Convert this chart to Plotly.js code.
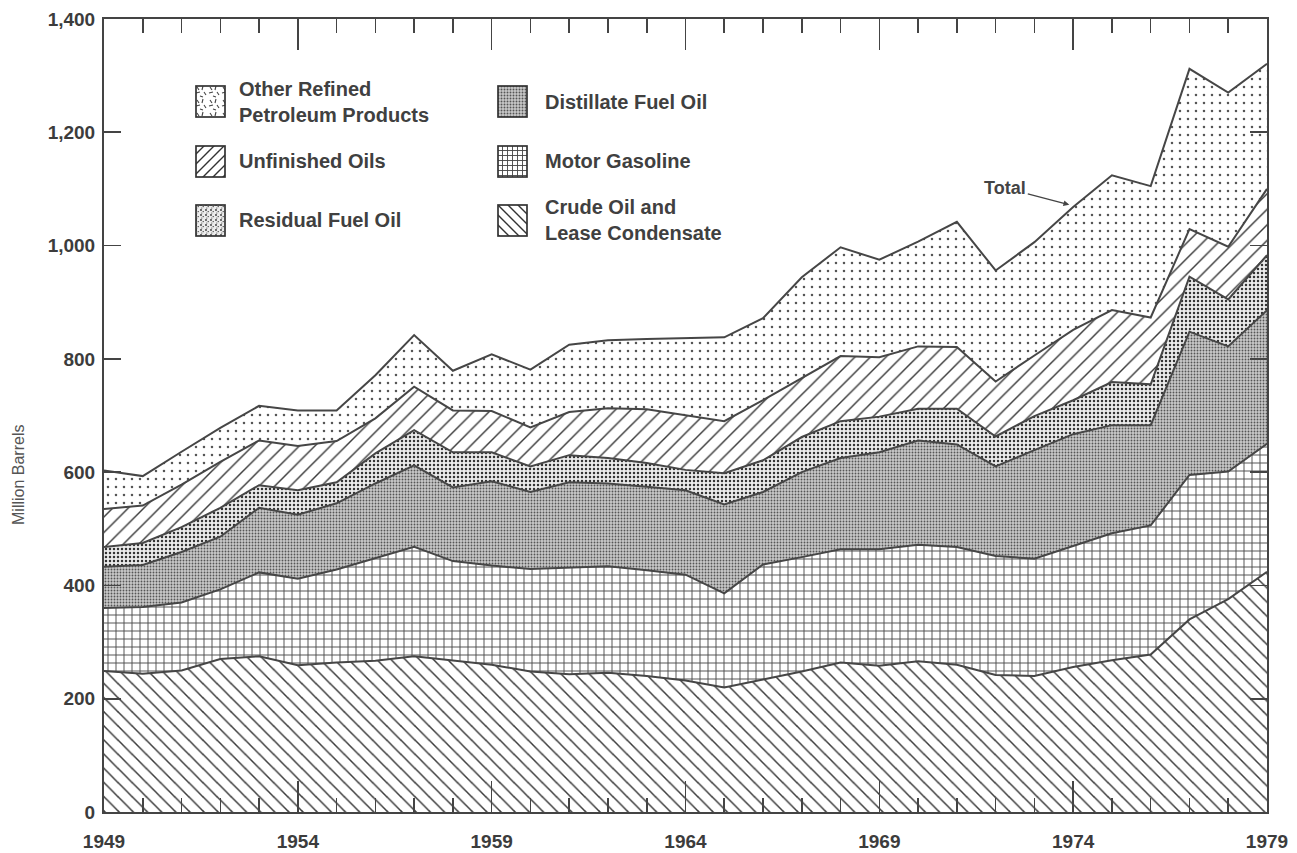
<!DOCTYPE html>
<html>
<head>
<meta charset="utf-8">
<script src="https://cdn.plot.ly/plotly-3.0.1.min.js"></script>
<style>
html,body{margin:0;padding:0;background:#ffffff;}
#chart{width:1297px;height:853px;}
</style>
</head>
<body>
<div id="chart"></div>
<script>
// ---- data (million barrels) ----
const years = [1949,1950,1951,1952,1953,1954,1955,1956,1957,1958,1959,1960,1961,1962,1963,1964,1965,1966,1967,1968,1969,1970,1971,1972,1973,1974,1975,1976,1977,1978,1979];
const crudeOil          = [249,244,250,270,275,259,264,267,275,267,260,248,243,246,240,232,220,234,248,264,258,266,260,242,240,256,268,278,340,376,424];
const motorGasoline     = [111,118,120,123,148,153,164,181,193,176,175,181,189,188,187,187,166,203,202,200,206,206,208,210,207,214,224,228,255,225,226];
const distillateFuelOil = [73,74,89,93,114,113,117,132,144,130,149,136,150,146,147,149,157,128,150,161,171,184,181,158,192,197,191,177,253,221,236];
const residualFuelOil   = [35,39,44,51,40,43,37,53,62,62,51,45,48,45,42,36,55,56,62,65,63,56,63,53,60,60,76,72,97,83,97];
const unfinishedOils    = [67,66,75,81,79,78,73,62,77,74,73,69,76,88,95,96,92,106,104,115,105,110,109,97,107,124,127,118,84,93,117];
const otherProducts     = [68,52,58,60,61,63,54,76,91,70,100,102,119,120,124,136,148,145,178,192,172,185,221,196,200,217,238,232,283,272,221];

const seriesNames = {
  crude: 'Crude Oil and<br>Lease Condensate',
  gasoline: 'Motor Gasoline',
  distillate: 'Distillate Fuel Oil',
  residual: 'Residual Fuel Oil',
  unfinished: 'Unfinished Oils',
  other: 'Other Refined<br>Petroleum Products'
};
const yTickVals = [0,200,400,600,800,1000,1200,1400];
const xTickVals = [1949,1954,1959,1964,1969,1974,1979];
const yAxisTitle = 'Million Barrels';
const totalLabel = 'Total';

// ---- styles ----
const FONT = 'Liberation Sans, Arial, sans-serif';
const LINE = '#464646';
const patterns = {
  crude:      {shape:'\\', size:10, solidity:0.15, fgcolor:'#3a3a3a', bgcolor:'#ffffff'},
  gasoline:   {shape:'+',  size:8,  solidity:0.22, fgcolor:'#4a4a4a', bgcolor:'#ffffff'},
  distillate: {shape:'.',  size:3,  solidity:0.3,  fgcolor:'#555555', bgcolor:'#c9c9c9'},
  residual:   {shape:'.',  size:4,  solidity:0.3,  fgcolor:'#333333', bgcolor:'#ececec'},
  unfinished: {shape:'/',  size:11, solidity:0.13, fgcolor:'#3a3a3a', bgcolor:'#ffffff'},
  other:      {shape:'.',  size:8,  solidity:0.08, fgcolor:'#555555', bgcolor:'#ffffff'}
};

const layers = [
  {key:'crude', y: crudeOil},
  {key:'gasoline', y: motorGasoline},
  {key:'distillate', y: distillateFuelOil},
  {key:'residual', y: residualFuelOil},
  {key:'unfinished', y: unfinishedOils},
  {key:'other', y: otherProducts}
];

const traces = layers.map(l => ({
  type:'scatter', mode:'lines', x: years, y: l.y,
  name: seriesNames[l.key].replace('<br>',' '),
  stackgroup:'one',
  line:{color:LINE, width:2, shape:'linear'},
  fillcolor:'#ffffff',
  fillpattern: patterns[l.key],
  hoverinfo:'skip', showlegend:false
}));

// ---- legend swatches (decoration) ----
function svgSwatch(inner, pw, ph, bg){
  const svg = '<svg xmlns="http://www.w3.org/2000/svg" width="31" height="33" viewBox="0 0 31 33">' +
    '<defs><pattern id="p" width="'+pw+'" height="'+ph+'" patternUnits="userSpaceOnUse">' +
    '<rect width="'+pw+'" height="'+ph+'" fill="'+bg+'"/>' + inner + '</pattern></defs>' +
    '<rect x="1" y="1" width="29" height="31" fill="url(#p)" stroke="#333" stroke-width="1.7"/></svg>';
  return 'data:image/svg+xml;charset=utf-8,' + encodeURIComponent(svg);
}
const swatchSvg = {
  other: svgSwatch('<path d="M2,2l2,3M8,1l-1,4M1,8l4,-1M9,7l2,3M5,11l3,1" stroke="#444" stroke-width="1.1" fill="none"/>', 13, 13, '#fff'),
  unfinished: svgSwatch('<path d="M0,10L10,0M-2,2L2,-2M8,12L12,8" stroke="#333" stroke-width="1.4"/>', 10, 10, '#fff'),
  residual: svgSwatch('<circle cx="1" cy="1" r="0.9" fill="#333"/><circle cx="3.2" cy="2.6" r="0.7" fill="#333"/><circle cx="1.8" cy="4" r="0.6" fill="#444"/>', 5, 5, '#ececec'),
  distillate: svgSwatch('<circle cx="1.5" cy="1.5" r="0.95" fill="#555"/>', 3, 3, '#c9c9c9'),
  gasoline: svgSwatch('<path d="M0,0.5H10M0.5,0V10M0,5.5H10M5.5,0V10" stroke="#444" stroke-width="0.9"/>', 10, 10, '#fff'),
  crude: svgSwatch('<path d="M0,0L10,10M-2,8L2,12M8,-2L12,2" stroke="#333" stroke-width="1.4"/>', 10, 10, '#fff')
};

// pixel geometry of the plot area
const M = {l:104, r:30, t:19, b:41};
const W = 1297, H = 853;
const pw = W - M.l - M.r, ph = H - M.t - M.b;
const px2x = px => (px - M.l) / pw;
const py2y = py => (H - M.b - py) / ph;

const legendCells = [
  {key:'other',      col:0, row:0},
  {key:'unfinished', col:0, row:1},
  {key:'residual',   col:0, row:2},
  {key:'distillate', col:1, row:0},
  {key:'gasoline',   col:1, row:1},
  {key:'crude',      col:1, row:2}
];
const colSwatchX = [195, 497], colTextX = [237, 543], rowTop = [85, 145, 204];
const images = [], annotations = [];
legendCells.forEach(c => {
  images.push({source: swatchSvg[c.key], xref:'paper', yref:'paper',
    x: px2x(colSwatchX[c.col]), y: py2y(rowTop[c.row]),
    sizex: 31/pw, sizey: 33/ph, sizing:'stretch', xanchor:'left', yanchor:'top', layer:'above'});
  annotations.push({text: seriesNames[c.key], xref:'paper', yref:'paper',
    x: px2x(colTextX[c.col]), y: py2y(rowTop[c.row] + 16.5),
    xanchor:'left', yanchor:'middle', align:'left', showarrow:false,
    font:{size:20, weight:'bold', color:'#404040', family:FONT}});
});

// "Total" pointer onto the top of the stack in 1974
const iTot = years.indexOf(1974);
const totalAt = crudeOil[iTot] + motorGasoline[iTot] + distillateFuelOil[iTot] + residualFuelOil[iTot] + unfinishedOils[iTot] + otherProducts[iTot];
annotations.push({text: totalLabel, x: years[iTot] - 0.1, y: totalAt + 4, xref:'x', yref:'y',
  showarrow:true, arrowhead:2, arrowsize:0.9, arrowwidth:1.3, arrowcolor:'#444',
  ax:-64, ay:-17, font:{size:18, weight:'bold', color:'#444', family:FONT}});

// y-axis title (placed as in the reference, below the axis centre)
annotations.push({text: yAxisTitle, xref:'paper', yref:'paper', x: px2x(18), y: py2y(475),
  textangle:-90, showarrow:false, xanchor:'center', yanchor:'middle',
  font:{size:16, color:'#555', family:FONT}});

const tickFont = {size:19, weight:'bold', color:'#3c3c3c', family:FONT};

const layout = {
  width: W, height: H,
  margin: {l:M.l, r:M.r, t:M.t, b:M.b, pad:0},
  paper_bgcolor:'#ffffff', plot_bgcolor:'#ffffff',
  showlegend:false,
  font:{family:FONT, color:'#333'},
  xaxis:{
    range:[1949,1979], tickmode:'array', tickvals:xTickVals, ticktext:xTickVals.map(String),
    ticks:'inside', ticklen:31, tickwidth:1.6, tickcolor:'#444',
    showline:true, linewidth:2, linecolor:'#444', mirror:'ticks',
    showgrid:false, zeroline:false, tickfont:tickFont, automargin:false, fixedrange:true,
    ticklabelstandoff:11,
    minor:{tick0:1949, dtick:1, ticks:'inside', ticklen:14, tickwidth:1.6, tickcolor:'#444', showgrid:false}
  },
  yaxis:{
    range:[0,1400], tickmode:'array', tickvals:yTickVals, ticktext:yTickVals.map(v => v.toLocaleString('en-US')),
    ticks:'inside', ticklen:17, tickwidth:1.6, tickcolor:'#444',
    showline:true, linewidth:2, linecolor:'#444', mirror:'ticks',
    showgrid:false, zeroline:false, tickfont:tickFont, automargin:false, fixedrange:true,
    ticklabelstandoff:3
  },
  images: images,
  annotations: annotations
};

Plotly.newPlot('chart', traces, layout, {displayModeBar:false, staticPlot:true});
</script>
</body>
</html>
